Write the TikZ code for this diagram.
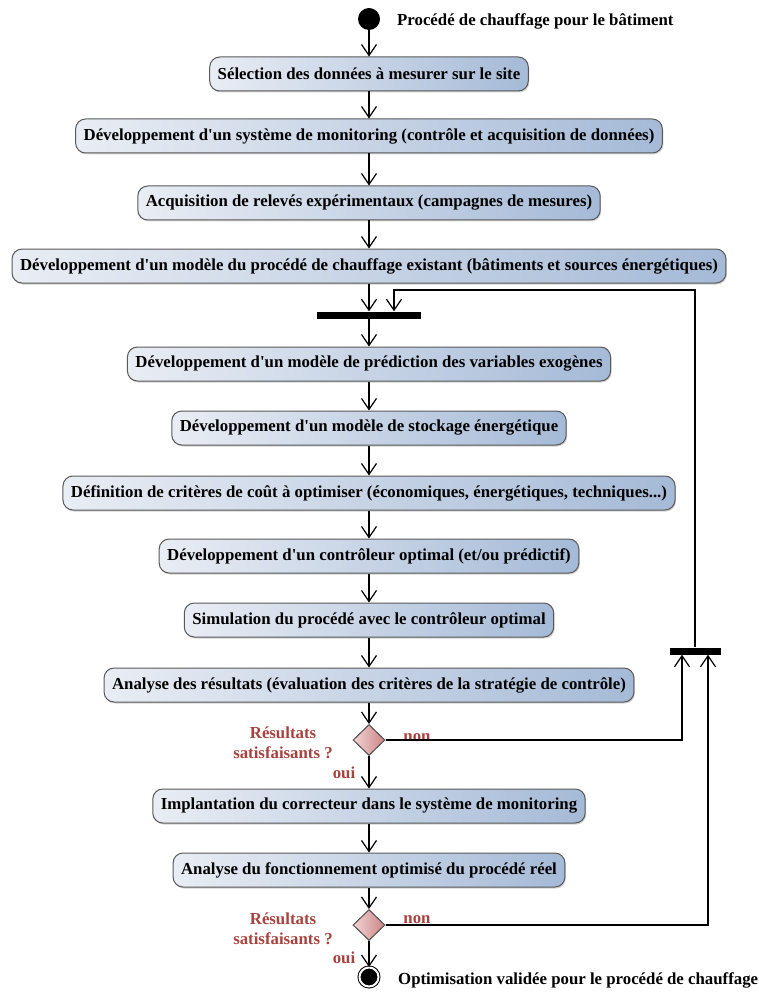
\documentclass[tikz,border=0pt]{standalone}
\usepackage{fontspec}
\setmainfont{Liberation Serif}[Ligatures=TeXOff]
\usetikzlibrary{arrows.meta,shapes.geometric,shadows}
\definecolor{boxLeft}{HTML}{E9EDF4}
\definecolor{boxRight}{HTML}{A5BAD7}
\definecolor{decLeft}{HTML}{F2D4D4}
\definecolor{decRight}{HTML}{CC8484}
\definecolor{guardRed}{HTML}{A8423E}
\begin{document}
\begin{tikzpicture}
[x=1pt,y=-1pt,
  lineDecorate/.style={-{Straight Barb[length=11pt,width=15pt,line width=1.2pt]},line width=1.2pt},%
  actDecorate/.style={shape=rectangle,rounded corners=10pt,draw=black!65,line width=1pt,
    left color=boxLeft,right color=boxRight,minimum height=34pt,inner xsep=8pt,
    font=\bfseries\fontsize{16.8}{19}\selectfont,
    drop shadow={shadow xshift=1pt,shadow yshift=-1.5pt,opacity=0.35}},%
  decDecorate/.style={shape=diamond,draw=black!70,line width=1pt,left color=decLeft,
    right color=decRight,minimum width=32pt,minimum height=31pt,inner sep=0pt},%
  barDecorate/.style={shape=rectangle,fill=black,inner sep=0pt,minimum height=7pt},%
  txtDecorate/.style={font=\bfseries\fontsize{16.8}{19}\selectfont,inner sep=0pt,anchor=west},%
  grdDecorate/.style={font=\bfseries\fontsize{16.8}{20}\selectfont,text=guardRed,align=center,inner sep=0pt}]
\useasboundingbox (0,0) rectangle (759,992);
%% start and stop
\node (start) at (369,19) [shape=circle,fill=black,minimum size=22pt,inner sep=0pt] {};
\node (startLbl) at (397,21) [txtDecorate] {Procédé de chauffage pour le bâtiment};
\node (stop) at (369,977) [shape=circle,draw=black,fill=black,double=white,double distance=2pt,
  line width=1pt,minimum size=19pt,inner sep=0pt] {};
\node (stopLbl) at (398,980) [txtDecorate] {Optimisation validée pour le procédé de chauffage};
%% activities
\foreach \nodename/\y/\txt in {
  a1/74/{Sélection des données à mesurer sur le site},
  a2/136/{Développement d'un système de monitoring (contrôle et acquisition de données)},
  a3/203/{Acquisition de relevés expérimentaux (campagnes de mesures)},
  a4/266/{Développement d'un modèle du procédé de chauffage existant (bâtiments et sources énergétiques)},
  a5/364/{Développement d'un modèle de prédiction des variables exogènes},
  a6/428/{Développement d'un modèle de stockage énergétique},
  a7/493/{Définition de critères de coût à optimiser (économiques, énergétiques, techniques...)},
  a8/556/{Développement d'un contrôleur optimal (et/ou prédictif)},
  a9/620/{Simulation du procédé avec le contrôleur optimal},
  a10/685/{Analyse des résultats (évaluation des critères de la stratégie de contrôle)},
  a11/806/{Implantation du correcteur dans le système de monitoring},
  a12/870/{Analyse du fonctionnement optimisé du procédé réel}}
{
  \node (\nodename) at (369,\y) [actDecorate] {\txt};
}
%% bars and decisions
\node (bar1) at (369,315) [barDecorate,minimum width=104pt] {};
\node (bar2) at (695,651) [barDecorate,minimum width=51pt] {};
\node (d1) at (369,740) [decDecorate] {};
\node (d2) at (369,925) [decDecorate] {};
\coordinate (loopTop) at (695,290);
%% guards
\node (g1) at (283,743) [grdDecorate] {Résultats\\satisfaisants ?};
\node (g2) at (283,929) [grdDecorate] {Résultats\\satisfaisants ?};
\node (oui1) at (344,773) [grdDecorate] {oui};
\node (oui2) at (344,958) [grdDecorate] {oui};
\node (non1) at (417,738) [grdDecorate] {non};
\node (non2) at (417,920) [grdDecorate] {non};
%% edges
\path
\foreach \startnode/\endnode in {start/a1, a1/a2, a2/a3, a3/a4, a4/bar1, bar1/a5, a5/a6, a6/a7,
  a7/a8, a8/a9, a9/a10, a10/d1, d1/a11, a11/a12, a12/d2, d2/stop}
{
  (\startnode) edge[lineDecorate] (\endnode)
};
\draw[lineDecorate] (d1.east) -| ([xshift=-13pt]bar2.south);
\draw[lineDecorate] (d2.east) -| ([xshift=13pt]bar2.south);
\draw[lineDecorate] (bar2.north) -- (loopTop) -| ([xshift=25pt]bar1.north);
\end{tikzpicture}
\end{document}
